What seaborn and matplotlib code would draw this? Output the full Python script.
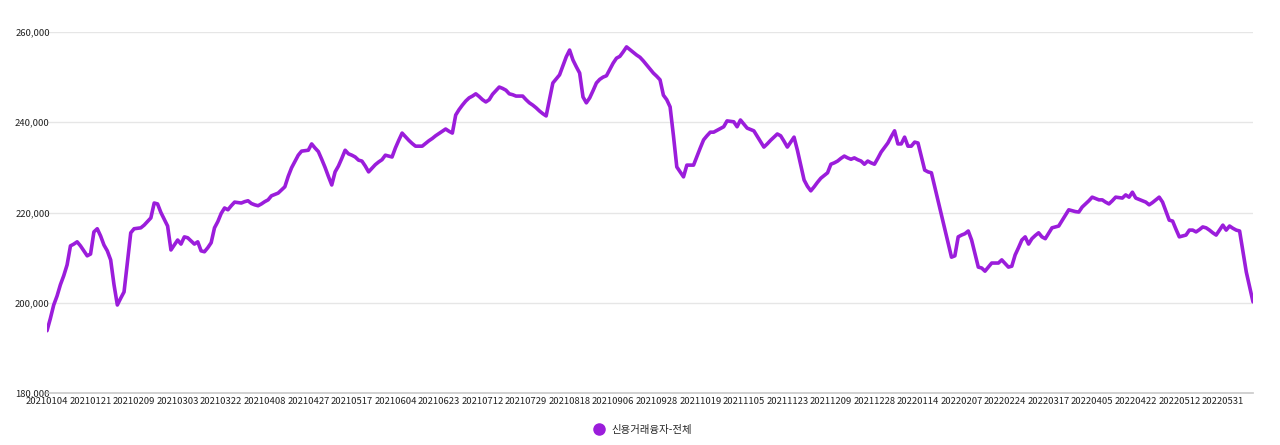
import numpy as np
import pandas as pd
import matplotlib
matplotlib.use("Agg")
import matplotlib.pyplot as plt
import seaborn as sns
from matplotlib.ticker import FuncFormatter
from matplotlib.lines import Line2D

series_name = "신용거래융자-전체"
values_k = [
193.8,196.5,199.5,201.5,204,206,208.4,212.6,213,213.5,
212.6,211.5,210.4,210.8,215.7,216.4,214.8,212.8,211.5,209.5,
204,199.5,201,202.4,209,215.5,216.4,216.5,216.6,217.2,
218,218.8,222.1,221.9,220,218.5,217,211.7,212.8,213.9,
213,214.6,214.4,213.7,213,213.5,211.5,211.3,212.2,213.3,
216.6,218,219.8,221,220.6,221.5,222.3,222.2,222.1,222.4,
222.6,222,221.7,221.5,221.9,222.4,222.8,223.7,224,224.3,
225,225.7,228,229.9,231.3,232.7,233.6,233.7,233.8,235.2,
234.3,233.5,231.8,230,228,226.1,229,230.3,232,233.8,
233,232.7,232.3,231.6,231.4,230.3,229,229.8,230.6,231.2,
231.7,232.7,232.5,232.3,234.3,236,237.6,236.8,236,235.3,
234.7,234.7,234.7,235.3,235.9,236.4,237,237.5,238,238.5,
238,237.6,241.6,242.8,243.8,244.7,245.4,245.8,246.3,245.7,
245,244.5,245,246.2,247,247.8,247.5,247.1,246.3,246.1,
245.8,245.8,245.8,245,244.3,243.8,243.2,242.5,241.9,241.4,
245,248.7,249.6,250.5,252.5,254.5,256,253.8,252.3,250.9,
245.6,244.3,245.4,247,248.7,249.5,250,250.3,251.7,253.1,
254.2,254.6,255.6,256.7,256.1,255.5,254.9,254.4,253.6,252.7,
251.8,250.9,250.2,249.4,246,245,243.4,237,230.1,229,
227.9,230.5,230.5,230.5,232.4,234.3,236.1,237,237.8,237.8,
238.2,238.6,239,240.3,240.2,240.1,239,240.5,239.6,238.7,
238.4,238.1,236.9,235.7,234.5,235.2,236,236.7,237.4,237,
235.8,234.5,235.6,236.7,233.8,230.5,227.2,225.8,224.8,225.7,
226.7,227.6,228.2,228.8,230.7,231,231.4,232,232.5,232.1,
231.8,232.1,231.7,231.4,230.7,231.4,231,230.7,232,233.4,
234.4,235.4,236.8,238.1,235.2,235.2,236.7,234.7,234.7,235.6,
235.4,232.4,229.4,229,228.8,225.7,222.6,219.5,216.4,213.2,
210.1,210.4,214.6,215,215.3,215.9,213.9,210.9,207.9,207.7,
207,207.9,208.8,208.8,208.8,209.5,208.7,207.9,208.1,210.6,
212.2,213.9,214.6,213,214.2,214.9,215.5,214.6,214.2,215.4,
216.6,216.8,217,218.2,219.4,220.6,220.4,220.2,220.1,221.2,
221.9,222.6,223.4,223.1,222.8,222.8,222.3,221.9,222.6,223.4,
223.3,223.2,223.9,223.4,224.5,223.2,222.9,222.6,222.3,221.7,
222.2,222.8,223.4,222.3,220.3,218.3,218.1,216.3,214.6,214.8,
215,216.1,216.1,215.7,216.2,216.8,216.6,216.1,215.5,215,
216.1,217.2,216.1,217,216.5,216.1,215.9,211.3,206.8,203.5,200.2,
]
tick_labels = ["20210104","20210121","20210209","20210303","20210322","20210408",
"20210427","20210517","20210604","20210623","20210712","20210729","20210818",
"20210906","20210928","20211019","20211105","20211123","20211209","20211228",
"20220114","20220207","20220224","20220317","20220405","20220422","20220512","20220531"]
tick_step = 13

df = pd.DataFrame({"idx": np.arange(len(values_k)), "value": np.array(values_k) * 1000})

sns.set_theme(style="white")
plt.rcParams['font.family'] = ['Noto Sans CJK KR', 'DejaVu Sans']
color = "#9b1ddb"

fig = plt.figure(figsize=(12.8, 4.45), dpi=100)
ax = fig.add_axes([47/1280, 1-393/445, (1253-47)/1280, (393-32)/445])
sns.lineplot(data=df, x="idx", y="value", ax=ax, color=color, linewidth=2.6)
ax.set_xlim(0, len(values_k)-1)
ax.set_ylim(180000, 260000)
ax.set_yticks([180000, 200000, 220000, 240000, 260000])
ax.yaxis.set_major_formatter(FuncFormatter(lambda v, p: f"{int(v):,}"))
ax.set_xticks(np.arange(len(tick_labels)) * tick_step)
ax.set_xticklabels(tick_labels)
ax.tick_params(axis='both', labelsize=6.8, colors="#222222", length=0, pad=3)
ax.tick_params(axis='y', pad=-2)
for lbl in ax.get_yticklabels():
    lbl.set_horizontalalignment('right')
ax.grid(axis='y', color="#e6e6e6", linewidth=1)
ax.set_xlabel(""); ax.set_ylabel("")
for s in ["top", "right", "left"]:
    ax.spines[s].set_visible(False)
ax.spines["bottom"].set_color("#cccccc")
ax.clip_on = False

handle = Line2D([], [], marker='o', color=color, linestyle='', markersize=8)
fig.legend([handle], [series_name], loc='center', bbox_to_anchor=(0.5, 1-430/445),
           frameon=False, fontsize=7.5, handletextpad=0.2)
fig.savefig("out.png", dpi=100)
